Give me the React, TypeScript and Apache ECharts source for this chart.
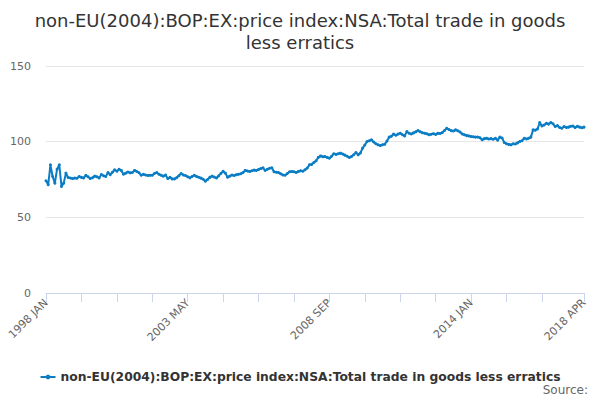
import React, { useEffect, useRef } from "react";
import * as echarts from "echarts";

const TITLE = "non-EU(2004):BOP:EX:price index:NSA:Total trade in goods\nless erratics";
const SERIES_NAME = "non-EU(2004):BOP:EX:price index:NSA:Total trade in goods less erratics";
const MONTHS = ["JAN", "FEB", "MAR", "APR", "MAY", "JUN", "JUL", "AUG", "SEP", "OCT", "NOV", "DEC"];
const START_YEAR = 1998;

const v1998 = [74.2, 71.5, 84.7, 77.0, 72.6, 81.8, 84.7, 70.4, 72.6, 79.2, 76.3, 76.0];
const v1999 = [75.6, 76.0, 75.8, 77.0, 76.4, 76.0, 77.7, 76.8, 75.6, 76.2, 77.2, 76.8];
const v2000 = [76.0, 78.3, 77.5, 77.0, 79.6, 78.2, 79.8, 81.4, 80.5, 81.8, 81.0, 78.5];
const v2001 = [79.2, 80.0, 79.4, 79.6, 81.0, 80.3, 79.5, 77.8, 78.4, 78.0, 77.6, 77.8];
const v2002 = [77.8, 79.0, 79.6, 78.5, 77.8, 77.2, 78.0, 75.6, 76.4, 75.4, 75.4, 76.2];
const v2003 = [77.5, 78.9, 78.0, 77.6, 76.8, 76.1, 77.0, 77.8, 77.0, 76.5, 75.9, 75.2];
const v2004 = [73.9, 75.0, 76.4, 77.2, 76.6, 76.0, 77.4, 79.0, 80.5, 79.2, 76.5, 77.2];
const v2005 = [78.0, 77.6, 78.2, 78.5, 78.8, 79.6, 81.0, 80.6, 80.3, 80.8, 81.2, 81.0];
const v2006 = [81.6, 82.2, 82.7, 81.0, 81.8, 82.4, 82.7, 80.1, 79.8, 79.6, 78.8, 78.0];
const v2007 = [77.8, 79.0, 80.1, 80.3, 80.1, 79.6, 80.3, 80.8, 80.5, 81.4, 82.6, 84.7];
const v2008 = [85.0, 86.2, 87.4, 89.6, 90.6, 90.0, 90.2, 89.6, 89.1, 90.4, 92.0, 91.6];
const v2009 = [92.0, 92.4, 91.8, 91.1, 90.4, 89.5, 90.2, 91.4, 92.8, 91.3, 92.5, 95.7];
const v2010 = [97.8, 100.1, 100.6, 101.2, 99.8, 98.6, 97.9, 97.4, 98.0, 98.3, 100.4, 103.0];
const v2011 = [103.6, 105.1, 104.2, 105.0, 105.6, 104.6, 103.8, 106.7, 105.6, 105.1, 105.8, 106.5];
const v2012 = [107.3, 106.6, 105.9, 105.6, 105.2, 104.6, 104.9, 105.3, 104.8, 105.6, 105.4, 106.0];
const v2013 = [107.4, 108.9, 108.0, 107.3, 107.0, 107.8, 107.2, 106.4, 105.1, 104.6, 104.0, 103.8];
const v2014 = [103.4, 103.2, 103.0, 103.1, 102.6, 101.2, 102.0, 102.3, 101.8, 102.0, 101.6, 102.2];
const v2015 = [101.0, 103.0, 102.4, 99.4, 98.6, 98.2, 97.9, 98.6, 98.5, 99.2, 100.1, 100.6];
const v2016 = [102.3, 101.8, 102.3, 103.0, 107.8, 107.6, 108.4, 112.6, 110.4, 111.0, 112.2, 111.6];
const v2017 = [112.6, 111.8, 110.0, 110.6, 109.4, 108.9, 110.0, 109.4, 109.6, 110.2, 110.4, 109.3];
const v2018 = [110.2, 109.6, 109.2, 109.6];

const VALUES = [
  ...v1998, ...v1999, ...v2000, ...v2001, ...v2002, ...v2003, ...v2004,
  ...v2005, ...v2006, ...v2007, ...v2008, ...v2009, ...v2010, ...v2011,
  ...v2012, ...v2013, ...v2014, ...v2015, ...v2016, ...v2017, ...v2018,
];

const CATEGORIES = VALUES.map((_, i) => {
  const y = START_YEAR + Math.floor(i / 12);
  return `${y} ${MONTHS[i % 12]}`;
});

const Y_MIN = 0;
const Y_MAX = 150;
const Y_INTERVAL = 50;
const LABEL_EVERY = 64;
const TICK_EVERY = 16;

const FONT = "DejaVu Sans, sans-serif";
const COLOR = "#0b7dc4";

export default function App() {
  const ref = useRef<HTMLDivElement>(null);

  useEffect(() => {
    document.body.style.margin = "0";
    if (!ref.current) return;
    const chart = echarts.init(ref.current, undefined, { renderer: "svg" });
    const last = VALUES.length - 1;
    chart.setOption({
      animation: false,
      backgroundColor: "#ffffff",
      textStyle: { fontFamily: FONT },
      grid: { left: 46, right: 16, top: 66, bottom: 107, containLabel: false },
      legend: {
        top: 366,
        left: "center",
        itemWidth: 15,
        itemHeight: 6,
        itemGap: 10,
        textStyle: { fontFamily: FONT, fontSize: 12.3, fontWeight: "bold", color: "#333333" },
        data: [SERIES_NAME],
      },
      graphic: [
        {
          type: "text",
          x: 300,
          y: 9,
          style: {
            text: TITLE,
            textAlign: "center",
            textVerticalAlign: "top",
            fontFamily: FONT,
            fontSize: 18,
            lineHeight: 22,
            fill: "#333333",
          },
        },
        {
          type: "text",
          right: 12,
          top: 384,
          style: { text: "Source:", fontFamily: FONT, fontSize: 12, fill: "#666666" },
        },
      ],
      xAxis: {
        type: "category",
        data: CATEGORIES,
        boundaryGap: false,
        axisLine: { show: true, lineStyle: { color: "#ccd6eb", width: 1 } },
        axisTick: {
          show: true,
          length: 9,
          lineStyle: { color: "#ccd6eb" },
          interval: (i: number) => (i % TICK_EVERY === 0 && i <= last - TICK_EVERY) || i === last,
        },
        axisLabel: {
          interval: (i: number) => i % LABEL_EVERY === 0 || i === last,
          rotate: 45,
          fontFamily: FONT,
          fontSize: 11,
          color: "#666666",
          margin: 8,
        },
        splitLine: { show: false },
      },
      yAxis: {
        type: "value",
        min: Y_MIN,
        max: Y_MAX,
        interval: Y_INTERVAL,
        axisLine: { show: false },
        axisTick: { show: false },
        axisLabel: { fontFamily: FONT, fontSize: 11, color: "#666666", margin: 15 },
        splitLine: { lineStyle: { color: "#e6e6e6", width: 1 } },
      },
      series: [
        {
          name: SERIES_NAME,
          type: "line",
          data: VALUES,
          color: COLOR,
          symbol: "circle",
          symbolSize: 3,
          showSymbol: true,
          showAllSymbol: true,
          lineStyle: { width: 2, color: COLOR },
          itemStyle: { color: COLOR },
        },
      ],
    });
    return () => chart.dispose();
  }, []);

  return <div ref={ref} style={{ width: 600, height: 400 }} />;
}
